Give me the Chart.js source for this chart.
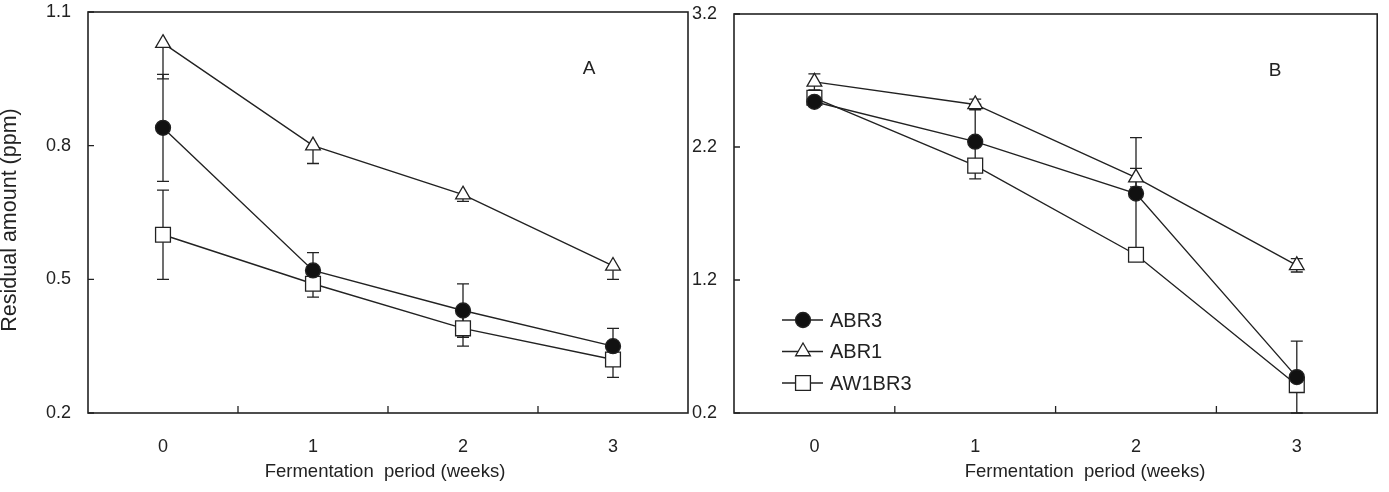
<!DOCTYPE html>
<html>
<head>
<meta charset="utf-8">
<title>Residual amount during fermentation</title>
<script src="https://cdn.jsdelivr.net/npm/chart.js@4.4.0/dist/chart.umd.min.js"></script>
<style>
  html, body { margin: 0; padding: 0; background: #fff; }
  #wrap { position: relative; width: 1389px; height: 492px; overflow: hidden; }
  #chartA { position: absolute; left: 0; top: 0; }
  #chartB { position: absolute; left: 680px; top: 0; }
</style>
</head>
<body>
<div id="wrap">
  <canvas id="chartA" width="700" height="492"></canvas>
  <canvas id="chartB" width="709" height="492"></canvas>
</div>
<script>
// --- Data ---
const weeks = ['0', '1', '2', '3'];
const seriesNames = ['ABR3', 'ABR1', 'AW1BR3'];

// Panel A
const yTicksA = [0.2, 0.5, 0.8, 1.1];
const abr3A = [0.84, 0.52, 0.43, 0.35];
const abr3AErrLow = [0.12, 0.04, 0.06, 0.04];
const abr3AErrHigh = [0.12, 0.04, 0.06, 0.04];
const abr1A = [1.03, 0.80, 0.69, 0.53];
const abr1AErrLow = [0.08, 0.04, 0.015, 0.03];
const abr1AErrHigh = [0, 0, 0, 0];
const aw1br3A = [0.60, 0.49, 0.39, 0.32];
const aw1br3AErrLow = [0.10, 0.03, 0.04, 0.04];
const aw1br3AErrHigh = [0.10, 0.03, 0.04, 0.04];

// Panel B
const yTicksB = [0.2, 1.2, 2.2, 3.2];
const abr3B = [2.54, 2.24, 1.85, 0.47];
const abr3BErrLow = [0.03, 0.28, 0.42, 0.27];
const abr3BErrHigh = [0.03, 0.28, 0.42, 0.27];
const abr1B = [2.69, 2.52, 1.97, 1.31];
const abr1BErrLow = [0.06, 0.04, 0.07, 0.05];
const abr1BErrHigh = [0.06, 0.04, 0.07, 0.05];
const aw1br3B = [2.57, 2.06, 1.39, 0.41];
const aw1br3BErrLow = [0.04, 0.03, 0.03, 0.04];
const aw1br3BErrHigh = [0.04, 0.03, 0.03, 0.04];

const xTitle = 'Fermentation  period (weeks)';
const yTitle = 'Residual amount (ppm)';

// --- Styles ---
const INK = '#222';
const FONT = "'Liberation Sans', Arial, sans-serif";

// marker look for each series, same order as seriesNames
const markerStyles = [
    { pointStyle: 'circle', pointRadius: 7.5, pointBackgroundColor: '#111' },
    { pointStyle: 'triangle', pointRadius: 8.5, pointBackgroundColor: '#fff' },
    { pointStyle: 'rect', pointRadius: 10.5, pointBackgroundColor: '#fff' }
];

function makeDataset(i, values, errLow, errHigh) {
    return Object.assign({
        label: seriesNames[i],
        data: values,
        errLow: errLow,
        errHigh: errHigh,
        borderColor: INK,
        borderWidth: 1.4,
        pointBorderColor: INK,
        pointBorderWidth: 1.3,
        tension: 0,
        fill: false
    }, markerStyles[i]);
}

// frame, inward ticks, error bars, titles, panel letter and legend
const panelDecor = {
    id: 'panelDecor',
    beforeDatasetsDraw(chart) {
        const ctx = chart.ctx;
        const y = chart.scales.y;
        ctx.save();
        ctx.strokeStyle = INK;
        ctx.lineWidth = 1.3;
        chart.data.datasets.forEach((ds, i) => {
            const meta = chart.getDatasetMeta(i);
            meta.data.forEach((pt, j) => {
                const v = ds.data[j];
                const top = y.getPixelForValue(v + ds.errHigh[j]);
                const bot = y.getPixelForValue(v - ds.errLow[j]);
                ctx.beginPath();
                ctx.moveTo(pt.x, top);
                ctx.lineTo(pt.x, bot);
                if (ds.errHigh[j] > 0) {
                    ctx.moveTo(pt.x - 6, top);
                    ctx.lineTo(pt.x + 6, top);
                }
                if (ds.errLow[j] > 0) {
                    ctx.moveTo(pt.x - 6, bot);
                    ctx.lineTo(pt.x + 6, bot);
                }
                ctx.stroke();
            });
        });
        ctx.restore();
    },
    afterDraw(chart, args, opts) {
        const ctx = chart.ctx;
        const area = chart.chartArea;
        const x = chart.scales.x;
        const y = chart.scales.y;
        ctx.save();
        ctx.strokeStyle = INK;
        ctx.lineWidth = 1.6;
        ctx.strokeRect(area.left, area.top, area.right - area.left, area.bottom - area.top);

        // inward tick marks
        ctx.lineWidth = 1.3;
        ctx.beginPath();
        y.ticks.forEach(t => {
            const py = y.getPixelForValue(t.value);
            ctx.moveTo(area.left, py);
            ctx.lineTo(area.left + 6, py);
        });
        for (let i = 0; i < weeks.length - 1; i++) {
            const px = (x.getPixelForValue(i) + x.getPixelForValue(i + 1)) / 2;
            ctx.moveTo(px, area.bottom);
            ctx.lineTo(px, area.bottom - 7);
        }
        ctx.stroke();

        // text
        ctx.fillStyle = INK;
        ctx.textAlign = 'center';
        ctx.textBaseline = 'middle';
        ctx.font = '18.5px ' + FONT;
        ctx.fillText(xTitle, opts.xTitleX, 472);

        ctx.font = '19px ' + FONT;
        ctx.fillText(opts.letter, opts.letterX, opts.letterY);

        if (opts.yTitle) {
            ctx.save();
            ctx.translate(10, 220);
            ctx.rotate(-Math.PI / 2);
            ctx.font = '21.5px ' + FONT;
            ctx.fillText(yTitle, 0, 0);
            ctx.restore();
        }

        if (opts.legend) {
            const lg = opts.legend;
            chart.data.datasets.forEach((ds, i) => {
                const ly = lg.y + i * 31.5;
                ctx.strokeStyle = INK;
                ctx.lineWidth = 1.4;
                ctx.beginPath();
                ctx.moveTo(lg.x, ly);
                ctx.lineTo(lg.x + 41, ly);
                ctx.stroke();
                ctx.fillStyle = ds.pointBackgroundColor;
                ctx.lineWidth = 1.3;
                Chart.helpers.drawPoint(ctx, {
                    pointStyle: ds.pointStyle,
                    radius: ds.pointRadius,
                    borderWidth: 1.3,
                    rotation: 0
                }, lg.x + 21, ly);
                ctx.fillStyle = INK;
                ctx.textAlign = 'left';
                ctx.font = '20px ' + FONT;
                ctx.fillText(ds.label, lg.x + 48, ly + 1);
            });
        }
        ctx.restore();
    }
};

function makePanel(canvasId, datasets, yTicks, yWidth, padding, decor) {
    const ctx = document.getElementById(canvasId).getContext('2d');
    return new Chart(ctx, {
        type: 'line',
        data: { labels: weeks, datasets: datasets },
        options: {
            responsive: false,
            animation: false,
            layout: { padding: padding },
            plugins: {
                legend: { display: false },
                tooltip: { enabled: false },
                panelDecor: decor
            },
            scales: {
                x: {
                    type: 'category',
                    offset: true,
                    grid: { display: false, drawTicks: false },
                    border: { display: false },
                    ticks: { color: INK, font: { family: FONT, size: 18 }, padding: 23 },
                    afterFit: (scale) => {
                        scale.height = 79;
                        scale.paddingLeft = 0;
                        scale.paddingRight = 0;
                    }
                },
                y: {
                    min: yTicks[0],
                    max: yTicks[yTicks.length - 1],
                    grid: { display: false, drawTicks: false },
                    border: { display: false },
                    ticks: {
                        color: INK,
                        font: { family: FONT, size: 18 },
                        padding: 17,
                        callback: (v) => Number(v).toFixed(1)
                    },
                    afterBuildTicks: (scale) => {
                        scale.ticks = yTicks.map(v => ({ value: v }));
                    },
                    afterFit: (scale) => {
                        scale.width = yWidth;
                        scale.paddingTop = 0;
                        scale.paddingBottom = 0;
                    }
                }
            }
        },
        plugins: [panelDecor]
    });
}

makePanel('chartA', [
    makeDataset(0, abr3A, abr3AErrLow, abr3AErrHigh),
    makeDataset(1, abr1A, abr1AErrLow, abr1AErrHigh),
    makeDataset(2, aw1br3A, aw1br3AErrLow, aw1br3AErrHigh)
], yTicksA, 88, { top: 12, right: 12, left: 0, bottom: 0 }, {
    letter: 'A', letterX: 589, letterY: 69, xTitleX: 385, yTitle: true
});

makePanel('chartB', [
    makeDataset(0, abr3B, abr3BErrLow, abr3BErrHigh),
    makeDataset(1, abr1B, abr1BErrLow, abr1BErrHigh),
    makeDataset(2, aw1br3B, aw1br3BErrLow, aw1br3BErrHigh)
], yTicksB, 54, { top: 14, right: 5, left: 0, bottom: 0 }, {
    letter: 'B', letterX: 1275 - 680, letterY: 71, xTitleX: 1085 - 680, yTitle: false,
    legend: { x: 782 - 680, y: 320 }
});
</script>
</body>
</html>
